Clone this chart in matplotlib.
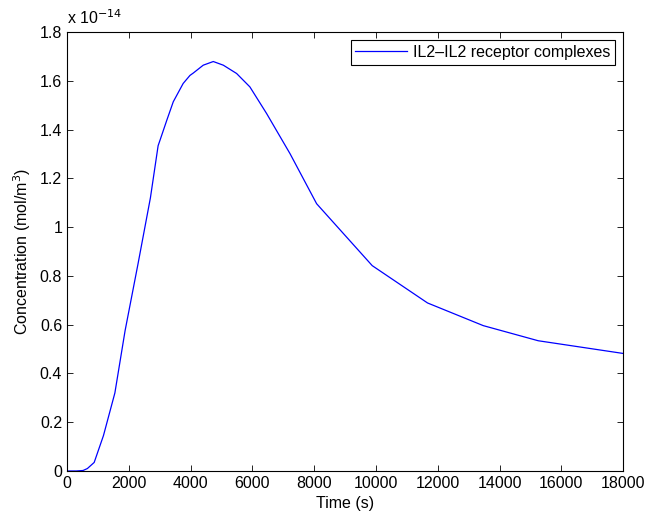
import numpy as np
import matplotlib
matplotlib.use("Agg")
import matplotlib.pyplot as plt
from matplotlib.ticker import FuncFormatter

plt.rcParams['font.family'] = ['Liberation Sans', 'DejaVu Sans']
plt.rcParams['font.size'] = 11.5

# IL2-IL2 receptor complex concentration vs time
scale = 1e-14
time_s = [0, 300, 520, 660, 880, 1180, 1550, 1880, 2300, 2700, 2950,
          3010, 3230, 3440, 3760, 3980, 4090, 4410, 4735, 5060, 5490,
          5920, 6460, 7220, 8080, 9880, 11670, 13475, 15254, 18000]
conc = [0, 0, 0.002, 0.01, 0.035, 0.145, 0.32, 0.575, 0.85, 1.12, 1.334,
        1.356, 1.438, 1.514, 1.589, 1.622, 1.632, 1.664, 1.679, 1.664, 1.630,
        1.575, 1.466, 1.301, 1.096, 0.842, 0.689, 0.596, 0.534, 0.482]
conc = np.array(conc) * scale

fig = plt.figure(figsize=(6.62, 5.14), dpi=100)
ax = fig.add_axes([0.1012, 0.0837, 0.840, 0.854])

ax.plot(time_s, conc, color='blue', lw=0.9, label='IL2\u2013IL2 receptor complexes')

ax.set_xlim(0, 18000)
ax.set_ylim(0, 1.8 * scale)
ax.set_xticks(np.arange(0, 18001, 2000))
ax.set_yticks(np.arange(0, 1.81, 0.2) * scale)
ax.yaxis.set_major_formatter(FuncFormatter(lambda v, p: f"{round(v / scale, 2):g}"))
ax.tick_params(direction='in', top=True, right=True, length=4, width=0.6, labelsize=11.5)
for s in ax.spines.values():
    s.set_linewidth(0.8)

ax.text(0.0, 1.012, r'x 10$^{-14}$', transform=ax.transAxes, ha='left', va='bottom')

ax.set_xlabel('Time (s)', labelpad=4)
ax.set_ylabel('Concentration (mol/m$^3$)', labelpad=5)

leg = ax.legend(loc='upper right', fancybox=False, framealpha=1, edgecolor='black',
                borderaxespad=0.5, handlelength=3.2, borderpad=0.3, handletextpad=0.4)
leg.get_frame().set_linewidth(0.8)

fig.savefig('out.png', dpi=100)
